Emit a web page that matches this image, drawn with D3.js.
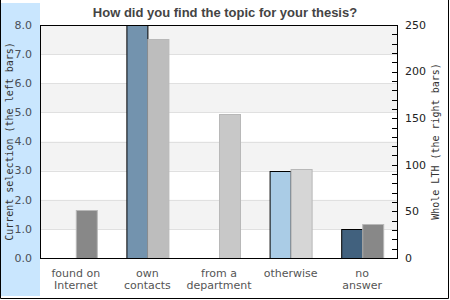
<!DOCTYPE html>
<html>
<head>
<meta charset="utf-8">
<script src="https://d3js.org/d3.v7.min.js"></script>
<style>
  body { margin: 0; background: #fff; }
  svg { display: block; }
</style>
</head>
<body>
<script>

var categories = [["found on", "Internet"], ["own", "contacts"], ["from a", "department"], ["otherwise"], ["no", "answer"]];
var current = [0, 8, 0, 3, 1];           // left axis, current selection
var whole = [52, 235, 155, 95, 37];      // right axis, whole LTH
var leftColors = ["#8aa0b8", "#7393ae", "#b0c4d8", "#aacce6", "#41617e"];
var rightColors = ["#888888", "#bdbdbd", "#c8c8c8", "#d6d6d6", "#888888"];
var leftTicks = [0, 1, 2, 3, 4, 5, 6, 7, 8];
var rightTicks = [0, 50, 100, 150, 200, 250];

var W = 450, H = 300,
    pLeft = 40, pRight = 398, pTop = 25, pBottom = 258;

var svg = d3.select("body").append("svg")
    .attr("width", W).attr("height", H);

// outer frame and the blue band on the left
svg.append("rect").attr("x", 1).attr("y", 3).attr("width", 39).attr("height", 293)
    .attr("fill", "#c9e6fe");
svg.append("path").attr("d", "M0.5,0V298.5H448.5V0")
    .attr("fill", "none").attr("stroke", "#000");

var x0 = d3.scaleBand().domain(d3.range(categories.length)).range([pLeft, pRight]);
var x1 = d3.scaleBand().domain(["l", "r"])
    .range([x0.bandwidth() / 2 - 21, x0.bandwidth() / 2 + 21]);
var yL = d3.scaleLinear().domain([0, 8]).range([pBottom, pTop]);
var yR = d3.scaleLinear().domain([0, 250]).range([pBottom, pTop]);

// alternating bands
svg.append("g").selectAll("rect").data([1, 3, 5, 7]).enter().append("rect")
    .attr("x", pLeft).attr("width", pRight - pLeft)
    .attr("y", d => yL(d + 1)).attr("height", d => yL(d) - yL(d + 1))
    .attr("fill", "#f3f3f3");
svg.append("g").selectAll("line").data(leftTicks.slice(1, -1)).enter().append("line")
    .attr("x1", pLeft).attr("x2", pRight)
    .attr("y1", d => Math.round(yL(d)) + 0.5).attr("y2", d => Math.round(yL(d)) + 0.5)
    .attr("stroke", "#e0e0e0");

// bars
var groups = svg.append("g").selectAll("g").data(categories).enter().append("g")
    .attr("transform", (d, i) => "translate(" + x0(i) + ",0)");

groups.filter((d, i) => current[i] > 0).append("rect")
    .attr("x", x1("l") + 0.5).attr("width", x1.bandwidth())
    .attr("y", function(d) { var i = categories.indexOf(d); return Math.round(yL(current[i])) + 0.5; })
    .attr("height", function(d) { var i = categories.indexOf(d); return pBottom - Math.round(yL(current[i])); })
    .attr("fill", function(d) { return leftColors[categories.indexOf(d)]; })
    .attr("stroke", "#000");

groups.append("rect")
    .attr("x", x1("r") + 0.5).attr("width", x1.bandwidth())
    .attr("y", function(d) { var i = categories.indexOf(d); return Math.round(yR(whole[i])) + 0.5; })
    .attr("height", function(d) { var i = categories.indexOf(d); return pBottom - Math.round(yR(whole[i])); })
    .attr("fill", function(d) { return rightColors[categories.indexOf(d)]; })
    .attr("stroke", "#b8b8b8");

// plot frame
svg.append("rect").attr("x", pLeft + 0.5).attr("y", pTop + 0.5)
    .attr("width", pRight - pLeft - 1).attr("height", pBottom - pTop)
    .attr("fill", "none").attr("stroke", "#000");

// right axis: minor ticks inward every 10
svg.append("g").selectAll("line").data(d3.range(0, 251, 10)).enter().append("line")
    .attr("x1", pRight - 6).attr("x2", pRight)
    .attr("y1", d => Math.round(yR(d)) + 0.5).attr("y2", d => Math.round(yR(d)) + 0.5)
    .attr("stroke", "#000");
svg.append("g").selectAll("text").data(rightTicks).enter().append("text")
    .attr("x", 405).attr("y", d => yR(d)).attr("dy", "0.35em")
    .attr("font-family", "DejaVu Sans").attr("font-size", 11).attr("fill", "#222")
    .text(d => d);

// left axis labels
svg.append("g").selectAll("text").data(leftTicks).enter().append("text")
    .attr("x", 32).attr("y", d => yL(d)).attr("dy", "0.35em")
    .attr("text-anchor", "end")
    .attr("font-family", "DejaVu Sans").attr("font-size", 11).attr("fill", "#4a5058")
    .text(d => d.toFixed(1));

// category labels
groups.each(function(d) {
  var t = d3.select(this).append("text")
      .attr("text-anchor", "middle")
      .attr("font-family", "DejaVu Sans").attr("font-size", 11).attr("fill", "#555");
  d.forEach(function(s, j) {
    t.append("tspan").attr("x", x0.bandwidth() / 2).attr("y", 277 + j * 12).text(s);
  });
});

// axis titles
svg.append("text")
    .attr("transform", "translate(13," + (pTop + pBottom) / 2 + ") rotate(-90)")
    .attr("text-anchor", "middle")
    .attr("font-family", "DejaVu Sans Mono").attr("font-size", 10).attr("fill", "#333")
    .text("Current selection (the left bars)");
svg.append("text")
    .attr("transform", "translate(439," + (pTop + pBottom) / 2 + ") rotate(-90)")
    .attr("text-anchor", "middle")
    .attr("font-family", "DejaVu Sans Mono").attr("font-size", 10).attr("fill", "#333")
    .text("Whole LTH (the right bars)");

svg.append("text")
    .attr("x", 225).attr("y", 17).attr("text-anchor", "middle")
    .attr("font-family", "Liberation Sans, Arial").attr("font-weight", "bold")
    .attr("font-size", 13).attr("fill", "#444")
    .text("How did you find the topic for your thesis?");

</script>
</body>
</html>
